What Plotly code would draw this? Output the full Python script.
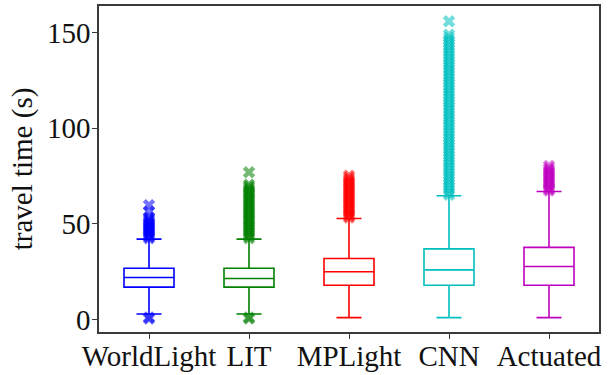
import plotly.graph_objects as go

# Travel-time distribution per controller (seconds)
methods = ["WorldLight", "LIT", "MPLight", "CNN", "Actuated"]
colors = ["#0000ff", "#008000", "#ff0000", "#00bfbf", "#bf00bf"]

q1 = [16.9, 16.9, 17.9, 17.9, 17.9]
median = [21.9, 21.4, 24.9, 25.9, 27.7]
q3 = [26.8, 26.8, 31.9, 36.9, 37.7]
lower_fence = [2.8, 2.8, 0.9, 0.9, 0.9]
upper_fence = [42.0, 42.0, 52.8, 64.7, 66.9]

outliers_worldlight = [0.4, 1.0, 42.5, 43.2, 44.0, 44.8, 45.5, 46.3, 47.0, 47.8,
                       48.5, 49.3, 50.0, 50.8, 51.6, 52.5, 53.5, 56.4, 59.8]
outliers_lit = [0.4, 1.0, 42.5, 43.5, 44.5, 45.5, 46.5, 47.5, 48.5, 49.5, 50.5,
                51.5, 52.5, 53.5, 54.5, 55.5, 56.5, 57.5, 58.5, 59.5, 60.5,
                61.5, 62.5, 63.5, 64.5, 65.5, 66.5, 67.5, 68.5, 69.5, 70.5, 77.0]
outliers_mplight = [53.3, 54.2, 55.1, 56.0, 57.0, 58.0, 59.0, 60.0, 61.0, 62.0,
                    63.0, 64.0, 65.0, 66.0, 67.0, 68.0, 69.0, 70.0, 71.0, 72.0,
                    73.0, 74.0, 75.2]
outliers_cnn = [65.2, 66.5, 68.0, 69.5, 71.0, 72.5, 74.0, 75.5, 77.0, 78.5, 80.0,
                81.5, 83.0, 84.5, 86.0, 87.5, 89.0, 90.5, 92.0, 93.5, 95.0, 96.5,
                98.0, 99.5, 101.0, 102.5, 104.0, 105.5, 107.0, 108.5, 110.0,
                111.5, 113.0, 114.5, 116.0, 117.5, 119.0, 120.5, 122.0, 123.5,
                125.0, 126.5, 128.0, 129.5, 131.0, 132.5, 134.0, 135.5, 137.0,
                138.5, 140.0, 141.5, 143.0, 144.5, 146.0, 147.5, 149.0, 156.0]
outliers_actuated = [67.4, 68.2, 69.0, 70.0, 71.0, 72.0, 73.0, 74.0, 75.0, 76.0,
                     77.0, 78.0, 79.0, 80.3]
outliers = [outliers_worldlight, outliers_lit, outliers_mplight, outliers_cnn,
            outliers_actuated]

y_ticks = [0, 50, 100, 150]
y_title = "travel time (s)"

font_family = "Liberation Serif"
font_size = 29

fig = go.Figure()
for i, name in enumerate(methods):
    fig.add_trace(go.Box(
        x=[name], q1=[q1[i]], median=[median[i]], q3=[q3[i]],
        lowerfence=[lower_fence[i]], upperfence=[upper_fence[i]],
        boxpoints=False, width=0.5, whiskerwidth=0.5,
        line=dict(color=colors[i], width=1.6),
        fillcolor="rgba(255,255,255,0)",
        showlegend=False, hoverinfo="skip",
    ))
    fig.add_trace(go.Scatter(
        x=[name] * len(outliers[i]), y=outliers[i], mode="markers",
        marker=dict(symbol="x", size=11, color=colors[i], opacity=0.55,
                    line=dict(width=0)),
        showlegend=False, hoverinfo="skip",
    ))

axis_common = dict(
    showline=True, linecolor="#3a3a3a", linewidth=1.5, mirror=True,
    ticks="outside", ticklen=5, tickwidth=1.2, tickcolor="#3a3a3a",
    showgrid=False, zeroline=False, automargin=False,
    tickfont=dict(family=font_family, size=font_size, color="#111"),
)

fig.update_layout(
    width=616, height=375,
    margin=dict(l=99, r=17, t=6, b=43),
    plot_bgcolor="white", paper_bgcolor="white",
    boxmode="overlay",
    xaxis=dict(**axis_common, type="category", categoryorder="array",
               categoryarray=methods, range=[-0.5, 4.5],
               ticklabelstandoff=-8),
    yaxis=dict(**axis_common, range=[-6.6, 164.0], tickvals=y_ticks,
               ticklabelstandoff=-4,
               title=dict(text=y_title, standoff=6,
                          font=dict(family=font_family, size=font_size,
                                    color="#111"))),
)

fig.write_html("out.html")
